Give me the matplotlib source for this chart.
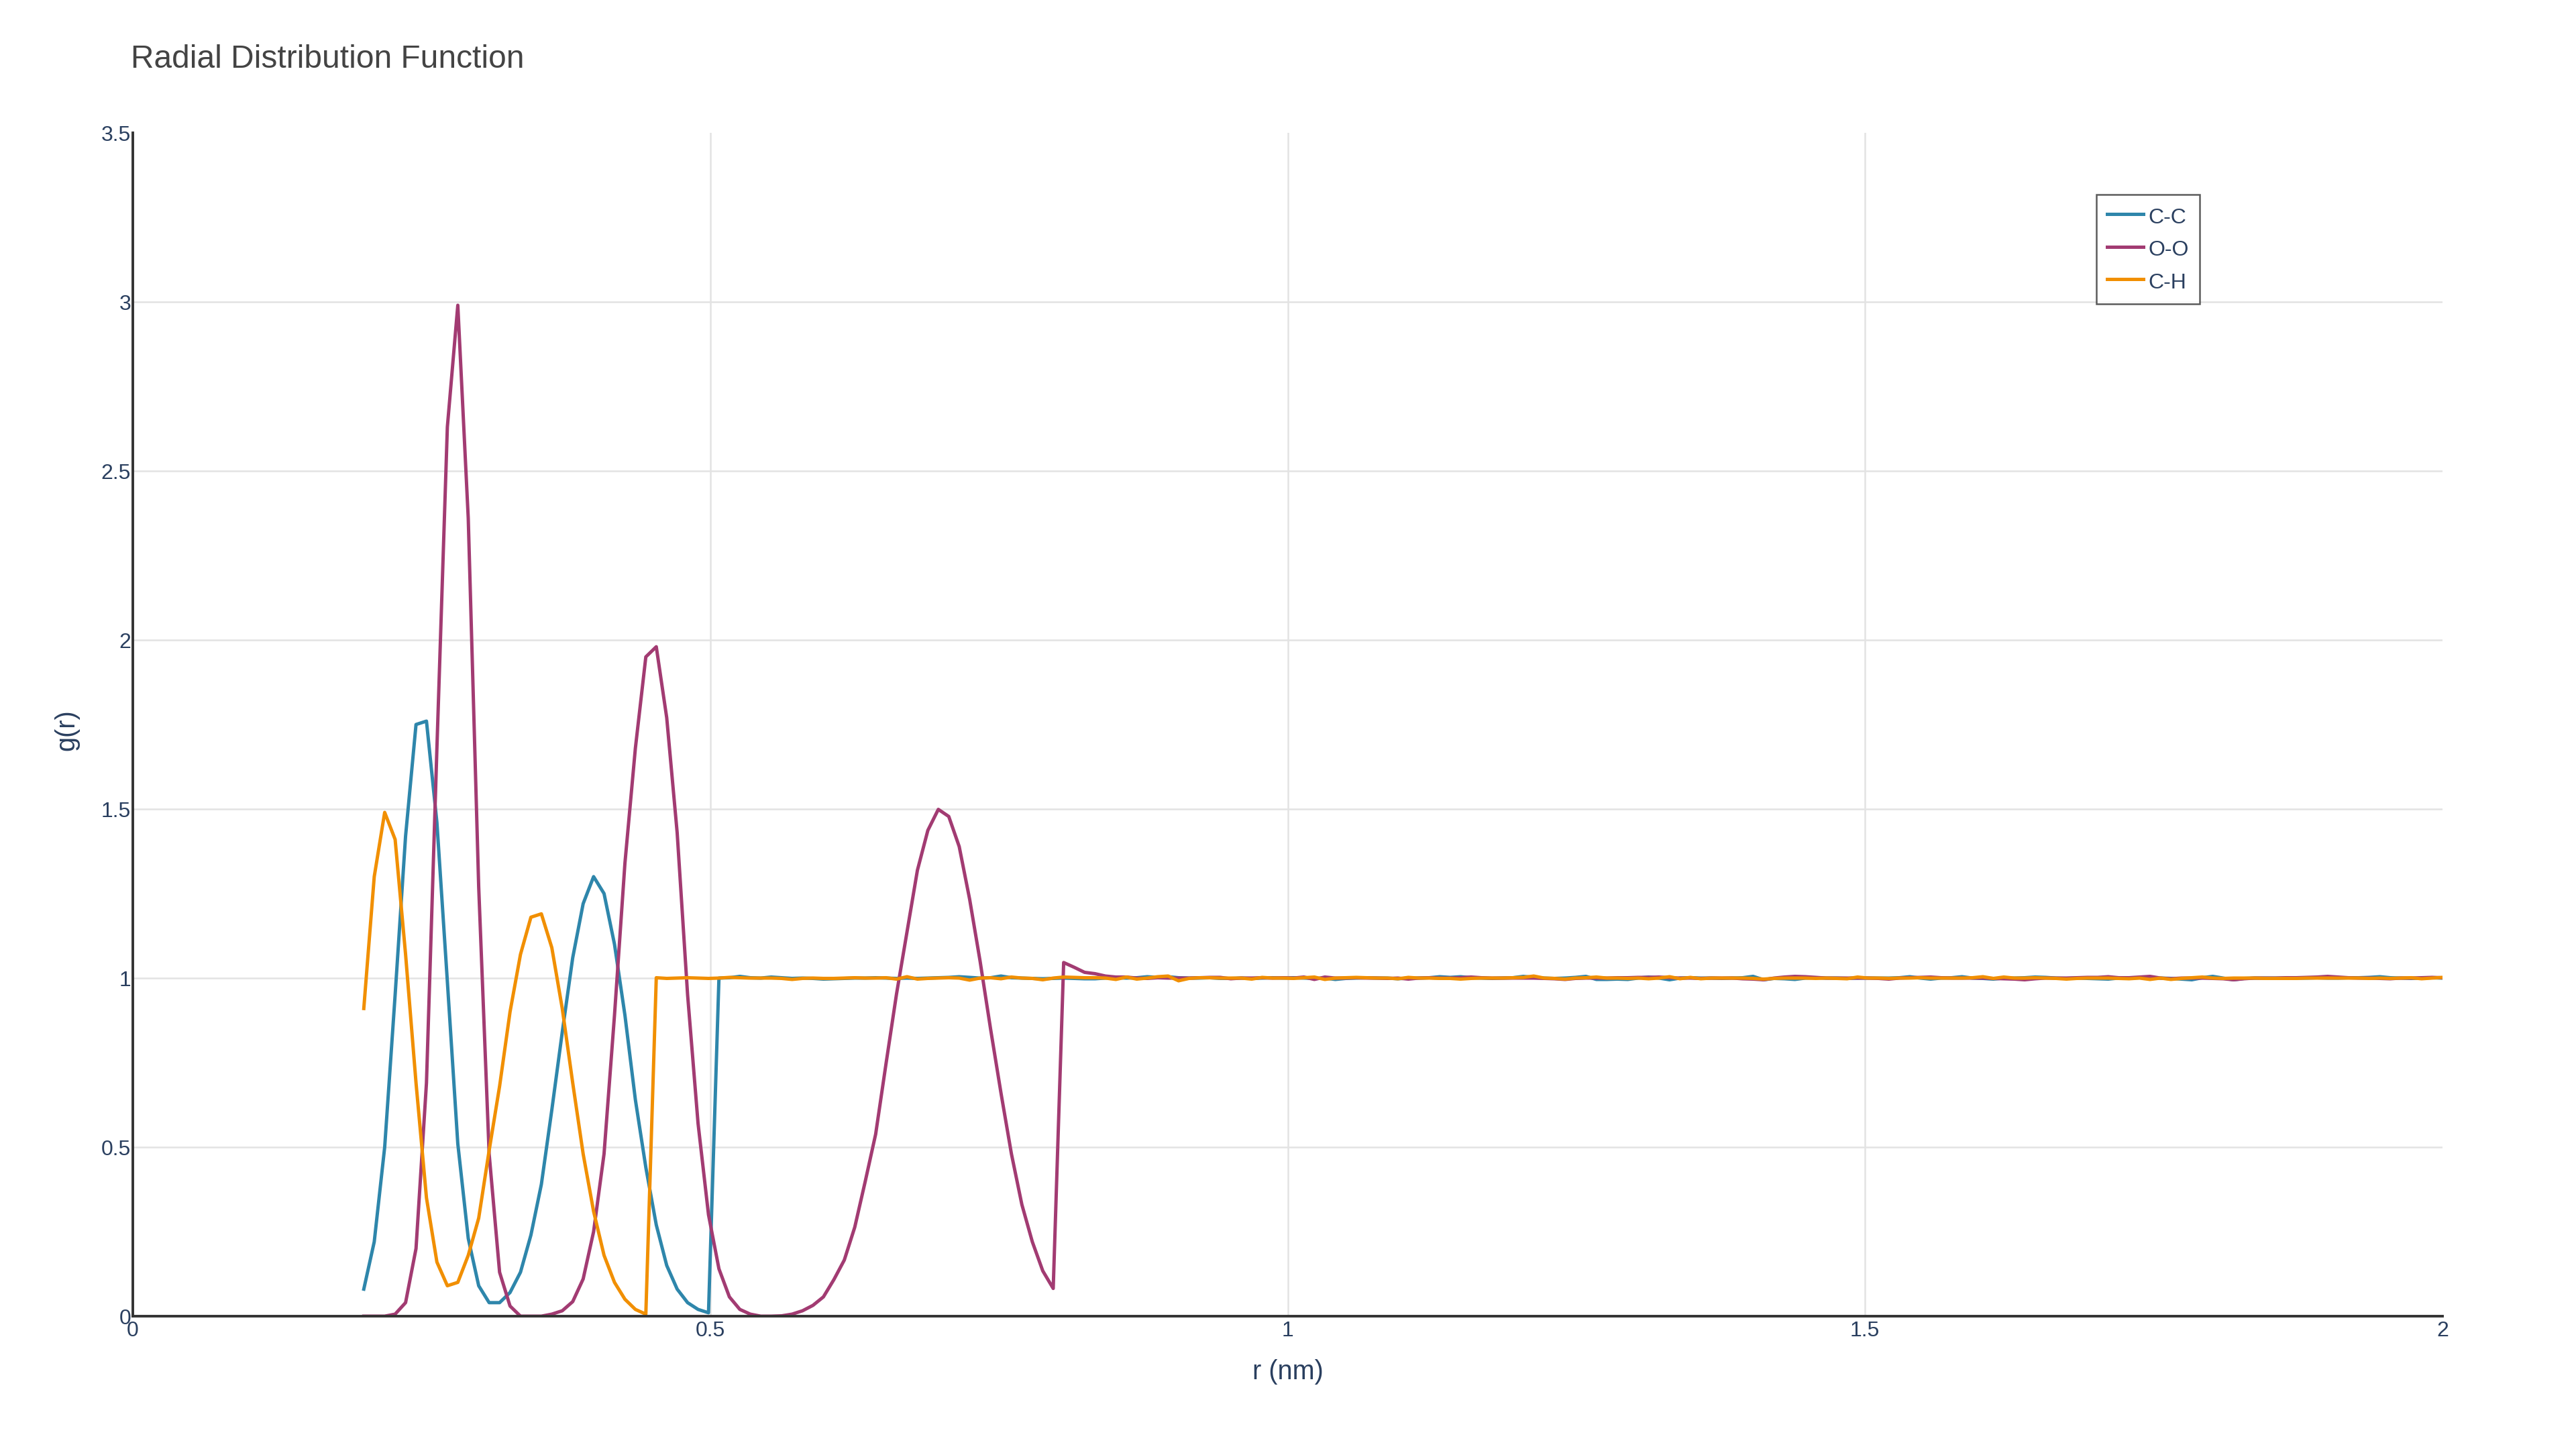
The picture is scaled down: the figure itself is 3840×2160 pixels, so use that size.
import matplotlib
matplotlib.use("Agg")
import matplotlib.pyplot as plt
import numpy as np

plt.rcParams["font.family"] = ["Liberation Sans", "DejaVu Sans"]

# r grid: 200 evenly spaced samples between 0.2 and 2.0 nm
R_START, R_END, N_POINTS = 0.2, 2.0, 200

# ── C-C ──────────────────────────────────────────────────────────────────
cc_head = [0.08, 0.22, 0.50, 0.95, 1.42, 1.75, 1.76, 1.46, 0.99, 0.51,
           0.23, 0.09, 0.04, 0.04, 0.07, 0.13, 0.24, 0.39, 0.61, 0.84,
           1.06, 1.22, 1.30, 1.25, 1.10, 0.89, 0.64, 0.44, 0.27, 0.15,
           0.08, 0.04, 0.02, 0.01]
cc_tail = [1.000, 1.001, 1.005, 1.001, 1.000, 1.003, 1.001, 0.999, 1.000, 0.999,
           0.997, 0.998, 0.999, 1.000, 1.000, 1.001, 1.000, 0.999, 1.000, 0.999,
           1.000, 1.001, 1.002, 1.004, 1.002, 1.000, 1.001, 1.006, 1.001, 1.000,
           0.999, 0.998, 0.999, 1.000, 0.999, 0.998, 0.998, 1.000, 1.001, 1.000,
           1.001, 1.004, 1.002, 1.004, 1.001, 1.000, 1.000, 1.001, 0.999, 0.999,
           1.000, 0.999, 1.000, 1.001, 1.000, 1.001, 1.000, 0.999, 1.000, 0.996,
           0.999, 1.000, 1.001, 1.000, 1.000, 0.998, 1.000, 1.000, 1.001, 1.004,
           1.002, 1.004, 1.001, 1.000, 0.999, 1.000, 1.001, 1.005, 1.002, 1.000,
           0.999, 1.000, 1.002, 1.005, 0.996, 0.996, 0.997, 0.996, 1.000, 1.003,
           1.000, 0.995, 1.000, 1.001, 1.000, 1.000, 0.999, 1.000, 1.001, 1.005,
           0.995, 0.999, 0.998, 0.996, 1.000, 1.001, 1.000, 1.000, 0.999, 1.000,
           1.000, 1.000, 1.000, 1.001, 1.004, 1.000, 0.997, 1.000, 1.001, 1.004,
           1.000, 0.999, 0.997, 1.000, 1.000, 1.001, 1.003, 1.002, 1.000, 0.999,
           1.000, 0.999, 0.998, 0.997, 1.000, 1.000, 1.001, 1.000, 1.000, 0.999,
           0.997, 0.995, 1.001, 1.005, 1.000, 0.995, 0.999, 1.000, 1.000, 1.000,
           1.000, 1.000, 1.000, 1.001, 1.000, 1.000, 1.001, 1.001, 1.002, 1.004,
           1.001, 1.000, 0.999, 1.000, 1.001, 1.000]

# ── O-O ──────────────────────────────────────────────────────────────────
oo_head = [0.0, 0.0, 0.0, 0.006, 0.04, 0.20, 0.69, 1.68, 2.63, 2.99,
           2.36, 1.27, 0.48, 0.13, 0.03, 0.0, 0.0, 0.0, 0.006, 0.016,
           0.043, 0.11, 0.25, 0.48, 0.89, 1.34, 1.68, 1.95, 1.98, 1.77,
           1.43, 0.95, 0.57, 0.30, 0.14, 0.057, 0.02, 0.006, 0.0, 0.0,
           0.001, 0.006, 0.016, 0.032, 0.057, 0.108, 0.166, 0.263, 0.398, 0.538,
           0.748, 0.953, 1.136, 1.319, 1.437, 1.499, 1.478, 1.389, 1.233, 1.05,
           0.85, 0.66, 0.48, 0.33, 0.22, 0.134, 0.082]
oo_tail = [1.046, 1.032, 1.017, 1.013, 1.006, 1.003, 1.003, 1.000, 0.999, 1.001,
           1.000, 1.000, 1.000, 1.001, 1.002, 1.002, 0.998, 1.000, 1.000, 1.001,
           1.000, 1.001, 1.000, 1.003, 0.996, 1.003, 1.000, 1.000, 1.001, 1.000,
           1.000, 0.999, 1.000, 0.997, 1.000, 1.001, 1.000, 1.000, 1.001, 1.003,
           1.001, 1.000, 1.000, 1.000, 1.000, 1.000, 0.999, 0.998, 0.996, 0.999,
           1.000, 1.000, 1.000, 1.001, 1.001, 1.002, 1.002, 1.003, 1.001, 1.000,
           1.000, 0.999, 1.000, 1.000, 1.000, 0.998, 0.997, 0.995, 1.000, 1.003,
           1.005, 1.004, 1.002, 1.000, 1.000, 1.000, 1.000, 1.000, 0.999, 0.997,
           1.000, 1.001, 1.002, 1.003, 1.001, 1.000, 1.000, 1.000, 1.000, 0.999,
           0.998, 0.997, 0.995, 0.998, 1.000, 1.000, 1.000, 1.001, 1.002, 1.002,
           1.004, 1.001, 1.001, 1.003, 1.005, 1.000, 0.998, 1.000, 1.000, 1.000,
           0.999, 0.998, 0.995, 0.998, 1.000, 1.000, 1.000, 1.001, 1.001, 1.002,
           1.003, 1.005, 1.003, 1.001, 1.000, 1.000, 0.999, 0.998, 1.000, 1.000,
           1.001, 1.002, 1.001]

# ── C-H ──────────────────────────────────────────────────────────────────
ch_head = [0.91, 1.30, 1.49, 1.41, 1.07, 0.69, 0.35, 0.16, 0.09, 0.10,
           0.18, 0.29, 0.49, 0.68, 0.90, 1.07, 1.18, 1.19, 1.09, 0.91,
           0.69, 0.48, 0.31, 0.18, 0.10, 0.05, 0.02, 0.006]
ch_tail = [1.001, 0.999, 1.000, 1.001, 1.000, 0.999, 1.000, 1.002, 1.001, 1.000,
           1.000, 1.000, 0.999, 0.996, 0.999, 1.000, 0.999, 0.999, 1.000, 1.001,
           1.000, 1.000, 1.001, 0.997, 1.004, 0.997, 0.999, 1.000, 1.001, 1.000,
           0.994, 1.000, 1.001, 0.998, 1.003, 1.000, 0.999, 0.995, 1.000, 1.003,
           1.002, 1.001, 1.001, 1.000, 0.996, 1.003, 0.997, 1.000, 1.004, 1.006,
           0.992, 0.999, 1.001, 1.001, 1.000, 1.000, 1.000, 0.997, 1.002, 1.000,
           1.000, 0.999, 1.001, 1.003, 0.996, 1.000, 1.001, 1.002, 1.001, 1.000,
           1.000, 0.998, 1.002, 1.000, 1.000, 0.999, 0.999, 0.997, 0.999, 1.000,
           1.000, 1.000, 1.001, 1.002, 1.006, 1.000, 0.999, 0.997, 1.000, 1.001,
           1.003, 1.000, 1.000, 0.999, 1.000, 0.998, 1.000, 1.004, 0.998, 1.002,
           0.998, 1.000, 1.000, 1.000, 1.000, 0.999, 0.997, 0.999, 1.000, 1.000,
           1.000, 0.999, 1.000, 0.999, 0.998, 1.003, 1.000, 1.000, 0.999, 1.000,
           1.000, 1.001, 1.000, 1.000, 1.000, 1.000, 1.001, 1.004, 0.999, 1.003,
           1.000, 1.000, 1.001, 1.000, 0.999, 0.997, 0.999, 1.000, 1.000, 1.000,
           0.999, 0.998, 1.000, 0.996, 1.000, 0.996, 0.999, 1.001, 1.003, 1.000,
           0.999, 1.000, 1.000, 1.000, 0.999, 0.999, 0.999, 0.999, 1.000, 1.000,
           1.000, 1.000, 1.000, 1.000, 0.999, 1.000, 0.999, 1.000, 1.001, 0.998,
           1.000, 1.002]

SERIES = ["C-C", "O-O", "C-H"]
COLORS = ["#2E86AB", "#A23B72", "#F18F01"]
X_TICKS = [0, 0.5, 1, 1.5, 2]
X_TICKLABELS = ["0", "0.5", "1", "1.5", "2"]
Y_TICKS = [0, 0.5, 1, 1.5, 2, 2.5, 3, 3.5]
Y_TICKLABELS = ["0", "0.5", "1", "1.5", "2", "2.5", "3", "3.5"]

TICK_C, TITLE_C, GRID_C, AXIS_C = "#2a3f5f", "#444444", "#e3e3e3", "#333333"


def main():
    r = np.linspace(R_START, R_END, N_POINTS)
    data = [cc_head + cc_tail, oo_head + oo_tail, ch_head + ch_tail]

    fig = plt.figure(figsize=(38.4, 21.6), dpi=100)
    ax = fig.add_axes([198 / 3840, 198 / 2160, 3443 / 3840, 1764 / 2160])

    # interior grid only (plotly leaves edges bare)
    for v in X_TICKS[1:-1]:
        ax.axvline(v, color=GRID_C, lw=1.8, zorder=0)
    for v in Y_TICKS[1:-1]:
        ax.axhline(v, color=GRID_C, lw=1.8, zorder=0)

    for name, ys, c in zip(SERIES, data, COLORS):
        ax.plot(r, ys, color=c, lw=3.6, label=name, solid_joinstyle="round", zorder=3)

    ax.set_xlim(0, 2)
    ax.set_ylim(0, 3.5)
    ax.set_xticks(X_TICKS)
    ax.set_xticklabels(X_TICKLABELS)
    ax.set_yticks(Y_TICKS)
    ax.set_yticklabels(Y_TICKLABELS)
    ax.tick_params(axis="both", length=0, labelsize=23, labelcolor=TICK_C)
    ax.tick_params(axis="x", pad=5)
    ax.tick_params(axis="y", pad=2)
    for s in ("top", "right"):
        ax.spines[s].set_visible(False)
    for s in ("left", "bottom"):
        ax.spines[s].set_color(AXIS_C)
        ax.spines[s].set_linewidth(2.8)
        ax.spines[s].set_zorder(4)

    leg = ax.legend(loc="upper left", bbox_to_anchor=(0.850, 0.948), fontsize=23,
                    frameon=True, fancybox=False, borderaxespad=0, handlelength=1.7,
                    handleheight=1.2, handletextpad=0.25, borderpad=0.5, labelspacing=0.45)
    leg.get_frame().set_edgecolor(AXIS_C)
    leg.get_frame().set_linewidth(1.8)
    for t in leg.get_texts():
        t.set_color(TICK_C)

    fig.text(0.0508, 1 - 101 / 2160, "Radial Distribution Function", fontsize=34.5,
             color=TITLE_C, ha="left", va="baseline")
    fig.text(0.5, 1 - 2045 / 2160, "r (nm)", fontsize=28.5, color=TICK_C,
             ha="center", va="center")
    fig.text(99 / 3840, 1 - 1088 / 2160, "g(r)", fontsize=28.5, color=TICK_C,
             ha="center", va="center", rotation=90)

    fig.savefig("out.png", dpi=100)
    plt.close(fig)


if __name__ == "__main__":
    main()
